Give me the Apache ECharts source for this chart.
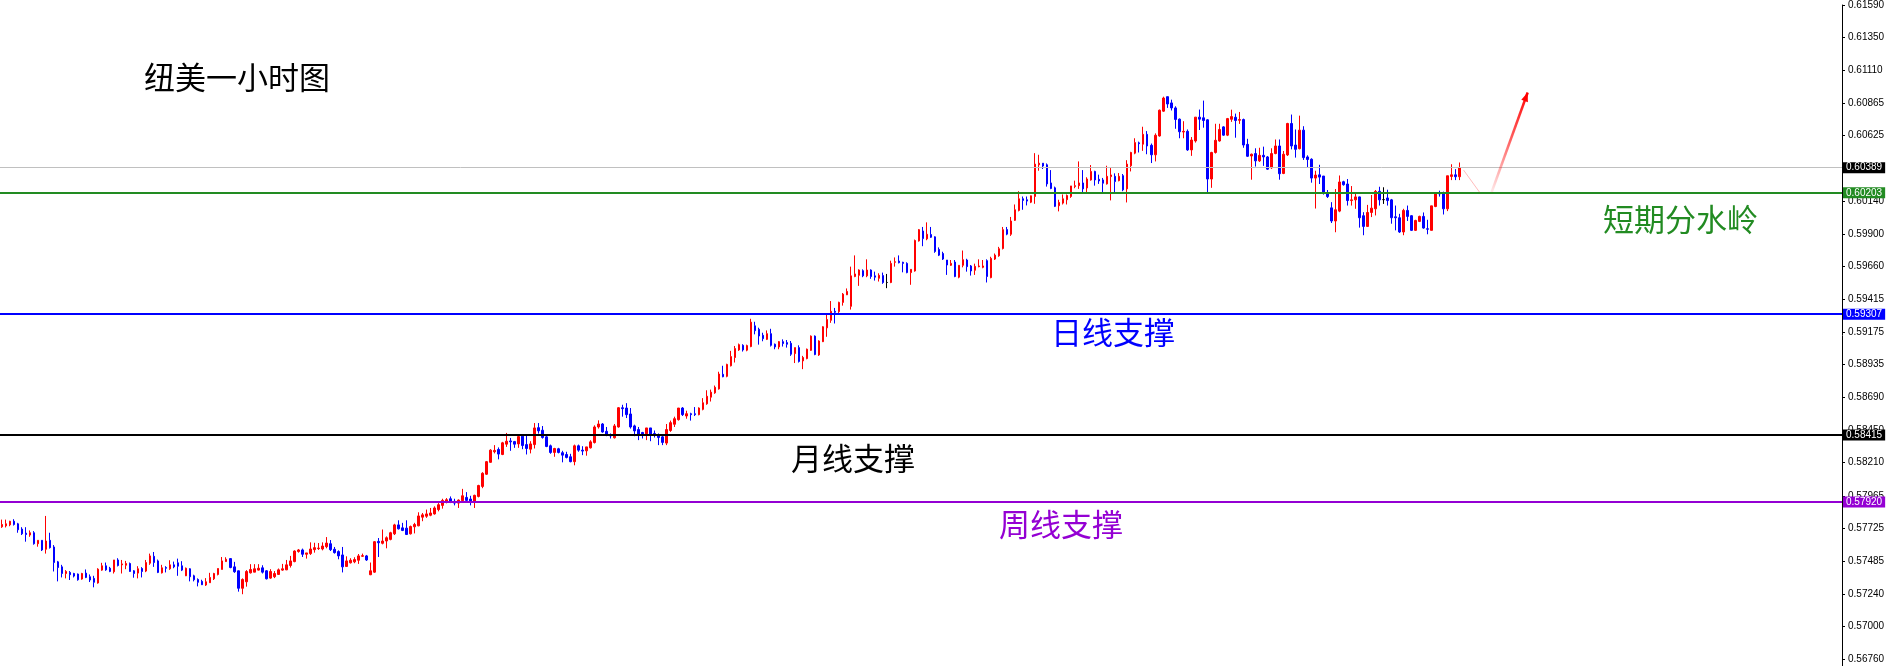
<!DOCTYPE html>
<html><head><meta charset="utf-8">
<script src="https://cdn.jsdelivr.net/npm/echarts@6/dist/echarts.min.js"></script>
<style>html,body{margin:0;padding:0;background:#fff}#c{width:1888px;height:666px}</style>
</head><body><div id="c"></div>
<script>
// ---- data (prices in 1/100000 units) ----
const opens = [
57737,57744,57751,57778,57759,57720,57690,57676,57693,57612,
57637,57571,57637,57588,57478,57441,57392,57400,57392,57388,
57351,57395,57368,57356,57322,57417,57449,57431,57405,57492,
57456,57453,57466,57412,57395,57429,57410,57468,57519,57485,
57397,57436,57427,57456,57471,57449,57375,57427,57375,57348,
57334,57307,57324,57353,57385,57422,57480,57502,57441,57412,
57283,57331,57397,57402,57417,57434,57412,57358,57368,57385,
57417,57419,57451,57480,57554,57566,57534,57539,57568,57576,
57573,57590,57612,57571,57554,57529,57444,57471,57478,57490,
57519,57522,57383,57402,57629,57615,57632,57644,57685,57751,
57729,57727,57685,57737,57744,57808,57815,57822,57832,57864,
57895,57920,57944,57925,57912,57930,57954,57942,57925,57961,
58035,58125,58213,58291,58308,58271,58347,58371,58366,58349,
58406,58344,58310,58344,58469,58450,58401,58335,58286,58313,
58284,58271,58254,58218,58335,58303,58298,58320,58359,58474,
58496,58442,58418,58394,58474,58616,58614,58570,58482,58455,
58433,58423,58467,58426,58413,58401,58355,58448,58494,58528,
58614,58555,58572,58572,58565,58604,58645,58694,58726,58755,
58863,58848,58926,58987,59043,59077,59041,59068,59221,59195,
59151,59121,59163,59085,59065,59104,59097,59092,59016,59060,
58962,58979,59040,59145,59006,59104,59206,59262,59328,59326,
59394,59450,59365,59585,59594,59628,59590,59633,59590,59572,
59592,59541,59541,59690,59699,59690,59682,59614,59626,59848,
59921,59863,59895,59878,59785,59755,59707,59668,59692,59580,
59668,59707,59663,59631,59658,59653,59702,59577,59714,59738,
59792,59932,59897,60000,60073,60159,60152,60134,60176,60410,
60422,60410,60276,60240,60108,60127,60152,60176,60249,60256,
60276,60239,60298,60361,60303,60298,60269,60323,60325,60293,
60330,60232,60403,60496,60572,60562,60635,60554,60484,60623,
60806,60913,60867,60830,60747,60652,60657,60520,60586,60762,
60757,60742,60305,60501,60586,60690,60629,60746,60761,60739,
60744,60561,60475,60493,60439,60480,60468,60388,60493,60549,
60346,60483,60715,60556,60529,60666,60468,60451,60312,60336,
60327,60200,60092,59995,60068,60285,60268,60146,60151,60173,
60034,59955,60058,60085,60214,60153,60165,60151,60026,60019,
59914,60073,60034,59926,59992,60029,59938,59926,60102,60204,
60200,60085,60324,60336,60322];
const closes = [
57754,57759,57778,57754,57715,57685,57680,57693,57612,57637,
57566,57632,57583,57473,57436,57392,57407,57383,57373,57346,
57392,57363,57344,57327,57424,57449,57419,57407,57492,57451,
57463,57466,57407,57392,57427,57407,57473,57522,57473,57400,
57434,57431,57456,57441,57446,57417,57431,57368,57346,57327,
57309,57331,57363,57392,57429,57485,57497,57436,57405,57283,
57348,57407,57422,57427,57431,57402,57353,57407,57392,57419,
57427,57456,57485,57558,57566,57534,57544,57573,57583,57580,
57595,57617,57568,57546,57522,57441,57485,57490,57495,57522,
57524,57492,57412,57627,57619,57632,57656,57693,57751,57722,
57710,57680,57739,57754,57817,57825,57832,57839,57876,57900,
57932,57937,57920,57912,57934,57966,57932,57925,57969,58042,
58132,58218,58303,58301,58274,58357,58369,58364,58347,58403,
58337,58315,58349,58467,58445,58396,58330,58286,58315,58286,
58266,58249,58218,58335,58303,58296,58327,58364,58474,58496,
58437,58418,58408,58482,58616,58609,58565,58474,58445,58418,
58423,58467,58418,58413,58396,58360,58455,58506,58535,58614,
58565,58572,58565,58565,58614,58653,58701,58731,58767,58865,
58845,58936,58994,59053,59082,59043,59075,59248,59185,59146,
59126,59163,59077,59065,59104,59090,59085,59011,59060,58958,
58987,59048,59145,59009,59109,59214,59267,59328,59321,59394,
59455,59475,59590,59604,59633,59590,59633,59585,59580,59594,
59541,59541,59682,59694,59687,59682,59614,59638,59851,59931,
59865,59897,59875,59770,59743,59714,59670,59682,59585,59668,
59709,59658,59626,59660,59663,59663,59585,59719,59743,59790,
59931,59898,59995,60078,60159,60147,60142,60181,60415,60422,
60401,60269,60235,60103,60132,60159,60183,60254,60256,60276,
60232,60305,60361,60298,60291,60274,60325,60335,60286,60325,
60225,60415,60501,60574,60566,60635,60549,60484,60628,60813,
60903,60859,60830,60745,60654,60657,60520,60593,60762,60747,
60737,60305,60501,60591,60671,60629,60751,60766,60737,60744,
60556,60473,60488,60439,60480,60468,60378,60493,60549,60344,
60488,60715,60549,60524,60666,60463,60449,60312,60334,60319,
60200,60175,59995,60078,60283,60263,60146,60151,60173,60019,
59955,60058,60090,60214,60151,60153,60146,60019,60019,59914,
60073,60029,59926,59999,60029,59943,59934,60107,60200,60195,
60085,60329,60336,60322,60390];
const lows = [
57729,57732,57741,57746,57693,57676,57627,57663,57605,57590,
57558,57539,57576,57407,57334,57363,57356,57344,57363,57339,
57346,57358,57329,57290,57317,57412,57412,57402,57392,57444,
57392,57424,57405,57361,57356,57363,57402,57456,57441,57395,
57392,57400,57419,57431,57375,57410,57373,57334,57334,57297,
57307,57300,57322,57344,57378,57422,57478,57431,57397,57258,
57239,57295,57392,57402,57414,57392,57348,57353,57358,57383,
57412,57417,57436,57475,57546,57514,57502,57529,57546,57566,
57563,57578,57558,57539,57497,57400,57441,57466,57468,57463,
57514,57485,57380,57397,57514,57607,57578,57637,57676,57717,
57705,57676,57680,57688,57741,57778,57803,57815,57827,57851,
57871,57910,57912,57895,57876,57925,57925,57895,57876,57954,
58022,58120,58210,58279,58235,58266,58327,58298,58320,58320,
58310,58271,58279,58315,58425,58388,58325,58276,58254,58279,
58213,58242,58213,58191,58291,58266,58262,58315,58352,58462,
58432,58406,58389,58389,58469,58550,58540,58462,58406,58377,
58389,58377,58369,58396,58340,58340,58340,58438,58474,58521,
58555,58535,58521,58555,58560,58597,58638,58662,58719,58750,
58841,58841,58921,58950,59036,59031,59033,59063,59158,59082,
59107,59116,59068,59048,59048,59068,59060,58999,58946,58950,
58901,58974,59036,59004,58999,59101,59140,59243,59238,59316,
59370,59448,59341,59580,59516,59580,59580,59568,59555,59548,
59531,59499,59536,59658,59682,59616,59609,59524,59621,59843,
59809,59853,59870,59760,59736,59707,59597,59663,59580,59572,
59653,59621,59592,59597,59653,59646,59541,59572,59707,59731,
59785,59890,59885,59995,60066,60078,60110,60127,60122,60366,
60379,60249,60230,60098,60066,60117,60117,60166,60237,60232,
60208,60208,60293,60256,60269,60208,60264,60147,60208,60288,
60215,60132,60361,60488,60501,60513,60488,60423,60435,60618,
60801,60830,60811,60676,60606,60606,60513,60476,60574,60667,
60684,60208,60240,60493,60581,60624,60622,60727,60610,60712,
60536,60468,60300,60397,60431,60402,60373,60380,60488,60300,
60341,60475,60524,60463,60524,60446,60390,60278,60087,60268,
60190,60165,59980,59912,60060,60256,60109,60109,60085,59946,
59890,59951,60024,60036,60109,60121,60109,59975,59926,59907,
59890,59995,59921,59921,59987,59938,59897,59926,60097,60175,
60043,60068,60297,60297,60297];
const highs = [
57790,57790,57781,57793,57766,57734,57734,57710,57705,57637,
57637,57817,57693,57602,57485,57456,57417,57410,57397,57392,
57397,57422,57385,57375,57431,57471,57473,57441,57492,57505,
57492,57485,57473,57417,57446,57439,57492,57539,57551,57495,
57456,57446,57490,57480,57502,57483,57436,57431,57383,57356,
57346,57358,57397,57397,57429,57514,57512,57505,57478,57414,
57356,57417,57461,57461,57461,57453,57417,57424,57410,57429,
57463,57492,57522,57563,57573,57576,57544,57622,57619,57617,
57622,57661,57639,57588,57563,57588,57519,57505,57512,57536,
57539,57529,57473,57632,57654,57717,57666,57700,57759,57785,
57766,57785,57746,57766,57844,57839,57864,57876,57888,57912,
57944,57949,57961,57944,57939,58017,57993,57966,57974,58047,
58140,58223,58310,58340,58323,58364,58430,58393,58371,58413,
58413,58413,58369,58503,58503,58481,58413,58344,58320,58320,
58298,58291,58276,58344,58344,58332,58327,58376,58486,58523,
58503,58474,58426,58496,58621,58638,58650,58614,58491,58474,
58438,58467,58467,58448,58426,58408,58496,58521,58550,58614,
58621,58594,58579,58621,58619,58687,58745,58750,58780,58882,
58926,58941,59036,59072,59090,59085,59082,59273,59251,59207,
59170,59187,59199,59090,59109,59121,59116,59109,59060,59077,
58999,59053,59150,59150,59114,59218,59304,59404,59353,59399,
59463,59497,59658,59741,59638,59638,59712,59638,59621,59609,
59614,59604,59702,59726,59741,59694,59690,59638,59858,59936,
59951,59985,59951,59882,59800,59768,59707,59707,59707,59668,
59777,59716,59670,59680,59712,59707,59712,59731,59755,59804,
59951,59951,60025,60117,60215,60176,60176,60183,60496,60484,
60422,60420,60371,60249,60152,60191,60191,60254,60293,60435,
60371,60318,60408,60366,60337,60313,60403,60386,60347,60349,
60342,60444,60506,60606,60581,60691,60659,60567,60642,60818,
60913,60913,60891,60842,60752,60732,60671,60615,60762,60818,
60884,60747,60506,60713,60713,60695,60756,60817,60788,60800,
60751,60602,60493,60532,60536,60544,60475,60532,60597,60597,
60512,60720,60781,60671,60773,60695,60480,60458,60366,60410,
60327,60224,60134,60231,60331,60292,60305,60253,60195,60175,
60060,60114,60187,60224,60248,60244,60226,60158,60109,60048,
60085,60109,60038,60004,60034,60058,60004,60107,60204,60219,
60212,60329,60414,60378,60427];

const tickValues = [0.61590,0.61350,0.61110,0.60865,0.60625,0.60385,0.60140,0.59900,0.59660,0.59415,0.59175,
  0.58935,0.58690,0.58450,0.58210,0.57965,0.57725,0.57485,0.57240,0.57000,0.56760];
const levelValues = [0.60389, 0.60203, 0.59307, 0.58415, 0.57920];
const titleText = '纽美一小时图';
const levelTexts = ['短期分水岭', '日线支撑', '月线支撑', '周线支撑'];
const levelTextPrices = [0.60203, 0.59307, 0.58415, 0.57920];
// arrow (bar index, price)
const arrowIdx = [365.4, 369.2, 371.5, 381.1];
const arrowPrice = [0.60371, 0.60207, 0.60207, 0.60944];
const slotCount = 460;

// ---- build ----
const scale = 100000;
const candles = opens.map((o, i) => [o / scale, closes[i] / scale, lows[i] / scale, highs[i] / scale]);
const categories = Array.from({length: slotCount}, (_, i) => String(i));

const lineColors = ['#c0c0c0', '#228b22', '#0000ff', '#000000', '#9400d3'];
const tagColors = ['#000000', '#228b22', '#0000ff', '#000000', '#9400d3'];
const lineWidths = [1, 2, 2, 2, 2];
const textColors = ['#228b22', '#0000ff', '#000000', '#9400d3'];

const levelSeries = levelValues.map((v, i) => ({
  type: 'line', name: 'lv' + i, data: [], silent: true, z: 3,
  markLine: {
    silent: true, symbol: 'none', animation: false, precision: 5,
    lineStyle: {color: lineColors[i], width: lineWidths[i], type: 'solid'},
    label: {show: true, position: 'end', formatter: v.toFixed(5), color: '#ffffff',
      backgroundColor: tagColors[i], fontSize: 10, fontFamily: 'Liberation Sans, Arial, sans-serif',
      padding: [1, 3, 0, 3], distance: 1},
    data: [{yAxis: v}]
  }
}));

const chart = echarts.init(document.getElementById('c'), null, {renderer: 'canvas'});
chart.setOption({
  animation: false,
  backgroundColor: '#ffffff',
  grid: {left: 0, right: 46, top: 0, bottom: 0, containLabel: false},
  xAxis: {type: 'category', data: categories, boundaryGap: true, show: false},
  yAxis: {
    type: 'value', position: 'right', min: 0.56709, max: 0.61590,
    axisLine: {show: true, lineStyle: {color: '#000', width: 1}},
    axisTick: {show: true, length: 3, inside: false, lineStyle: {color: '#000'}, customValues: tickValues},
    axisLabel: {show: true, customValues: tickValues, formatter: v => v.toFixed(5), color: '#000',
      fontSize: 10, fontFamily: 'Liberation Sans, Arial, sans-serif', margin: 6},
    splitLine: {show: false}
  },
  series: [{
    type: 'candlestick',
    data: candles,
    barWidth: 2,
    z: 2,
    itemStyle: {color: '#ff0000', color0: '#0000ff', borderColor: '#ff0000', borderColor0: '#0000ff',
      borderColorDoji: '#000000', borderWidth: 1}
  }].concat(levelSeries)
});

// ---- annotations ----
const px = (i, p) => chart.convertToPixel({gridIndex: 0}, [i, p]);
const g = [];
g.push({id: 'title', type: 'text', z: 50, style: {text: titleText, x: 144, y: 77, fill: '#000',
  font: '31px "Noto Sans CJK SC", sans-serif', textVerticalAlign: 'middle'}});
const textX = [1603, 1051, 791, 999];
const textOffsets = [26, 18, 23, 22];
levelTexts.forEach((t, i) => {
  const y = px(0, levelTextPrices[i])[1] + textOffsets[i];
  g.push({id: 'lt' + i, type: 'text', z: 50, style: {text: t, x: textX[i], y: y, fill: textColors[i],
    font: '31px "Noto Sans CJK SC", sans-serif', textVerticalAlign: 'middle'}});
});
const a = arrowIdx.map((k, i) => px(k, arrowPrice[i]));
g.push({id: 'ar1', type: 'line', z: 50, shape: {x1: a[0][0], y1: a[0][1], x2: a[1][0], y2: a[1][1]},
  style: {stroke: 'rgba(255,60,60,0.35)', lineWidth: 1}});
g.push({id: 'ar2', type: 'line', z: 50, shape: {x1: a[2][0], y1: a[2][1], x2: a[3][0], y2: a[3][1]},
  style: {stroke: new echarts.graphic.LinearGradient(0, 1, 1, 0, [
    {offset: 0, color: 'rgba(255,0,0,0.05)'}, {offset: 0.5, color: 'rgba(255,0,0,0.6)'}, {offset: 1, color: '#ff0000'}]),
    lineWidth: 2.5}});
const dx = a[3][0] - a[2][0], dy = a[3][1] - a[2][1];
const len = Math.hypot(dx, dy), ux = dx / len, uy = dy / len;
const tip = a[3], bx = tip[0] - ux * 9, by = tip[1] - uy * 9;
g.push({id: 'ar3', type: 'polygon', z: 51, shape: {points: [tip, [bx - uy * 3.5, by + ux * 3.5], [bx + uy * 3.5, by - ux * 3.5]]},
  style: {fill: '#ff0000'}});
chart.setOption({graphic: g});
</script>
</body></html>
